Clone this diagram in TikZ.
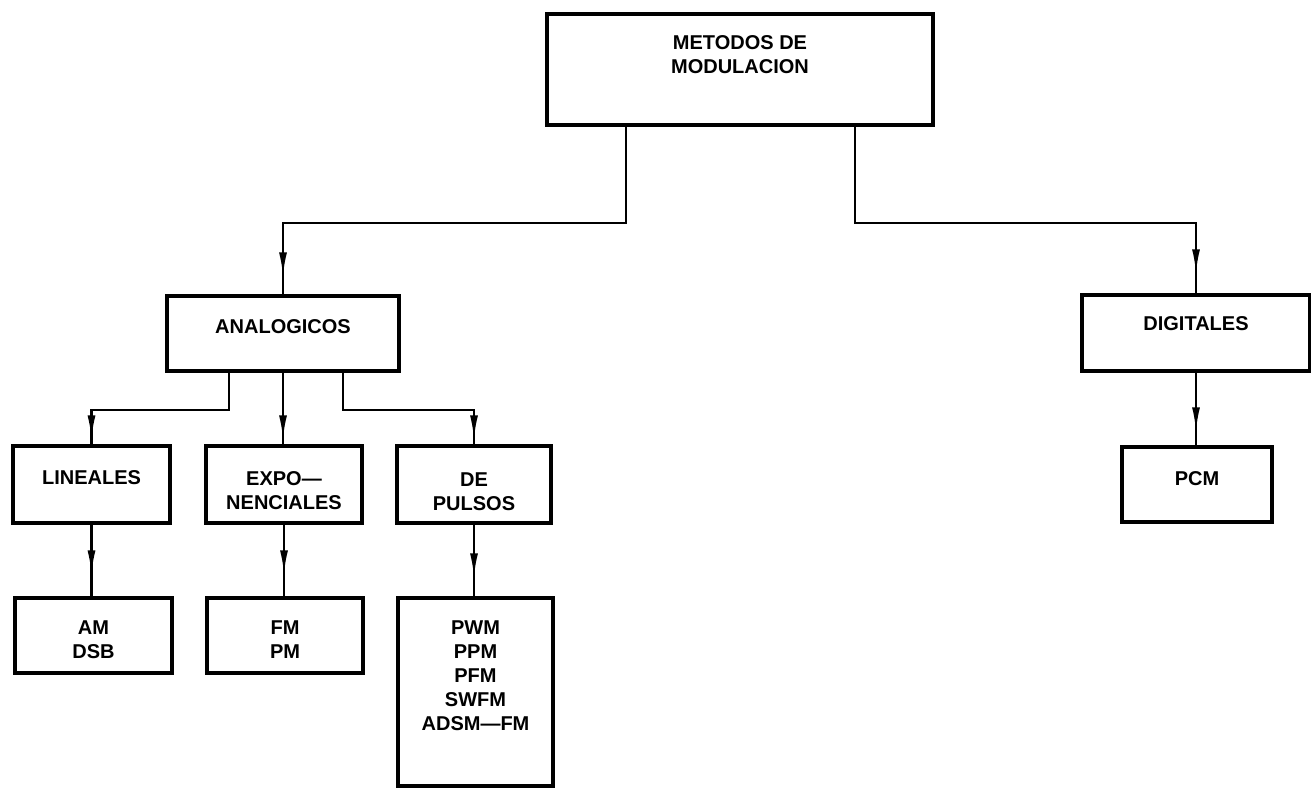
\documentclass[tikz,border=0pt]{standalone}
\usepackage{fontspec}
\setmainfont{Liberation Sans}
\usetikzlibrary{arrows.meta,decorations.markings}
\begin{document}
\begin{tikzpicture}[x=1pt,y=-1pt,
  box/.style={draw,line width=3.4pt,rectangle,inner sep=0pt},
  conn/.style={line width=2.2pt},
  lab/.style={anchor=north,align=center,inner sep=0pt,font=\fontsize{20}{24}\selectfont\bfseries},
  tipat/.style={postaction={decorate,decoration={markings,mark=at position -#1 with {\arrow{Latex[length=24pt,width=8pt]}}}}}
]
\useasboundingbox (0,0) rectangle (1311,789);

% boxes
\node[box,minimum width=386pt,minimum height=111pt,
  label={[lab,yshift=-23pt]north:{METODOS DE\\MODULACION}}] (top) at (740,69.5) {};
\node[box,minimum width=232pt,minimum height=75pt,
  label={[lab,yshift=-25pt]north:{ANALOGICOS}}] (anal) at (283,333.5) {};
\node[box,minimum width=228pt,minimum height=76pt,
  label={[lab,yshift=-23pt]north:{DIGITALES}}] (digit) at (1196,333) {};
\node[box,minimum width=157pt,minimum height=77pt,
  label={[lab,yshift=-26pt]north:{LINEALES}}] (lin) at (91.5,484.5) {};
\node[box,minimum width=156pt,minimum height=77pt,
  label={[lab,yshift=-27pt]north:{EXPO---\\NENCIALES}}] (expo) at (284,484.5) {};
\node[box,minimum width=154pt,minimum height=77pt,
  label={[lab,yshift=-28pt]north:{DE\\PULSOS}}] (pul) at (474,484.5) {};
\node[box,minimum width=157pt,minimum height=75pt,
  label={[lab,yshift=-24pt]north:{AM\\DSB}}] (am) at (93.5,635.5) {};
\node[box,minimum width=156pt,minimum height=75pt,
  label={[lab,yshift=-24pt]north:{FM\\PM}}] (fm) at (285,635.5) {};
\node[box,minimum width=155pt,minimum height=188pt,
  label={[lab,yshift=-24pt]north:{PWM\\PPM\\PFM\\SWFM\\ADSM---FM}}] (pwm) at (475.5,692) {};
\node[box,minimum width=150pt,minimum height=75pt,
  label={[lab,yshift=-26pt]north:{PCM}}] (pcm) at (1197,484.5) {};

% connectors
\draw[conn,tipat=18pt] ([xshift=-114pt]top.south) -- ++(0,96) -| (anal.north);
\draw[conn,tipat=20pt] ([xshift=115pt]top.south) -- ++(0,96) -| (digit.north);
\draw[conn,tipat=5pt] ([xshift=-54pt]anal.south) -- ++(0,37) -| (lin.north);
\draw[conn,tipat=5pt] (anal.south) -- (anal.south |- expo.north);
\draw[conn,tipat=5pt] ([xshift=60pt]anal.south) -- ++(0,37) -| (pul.north);
\draw[conn,tipat=22pt] (lin.south) -- (lin.south |- am.north);
\draw[conn,tipat=22pt] (expo.south) -- (expo.south |- fm.north);
\draw[conn,tipat=19pt] (pul.south) -- (pul.south |- pwm.north);
\draw[conn,tipat=14pt] (digit.south) -- (digit.south |- pcm.north);
\end{tikzpicture}
\end{document}
